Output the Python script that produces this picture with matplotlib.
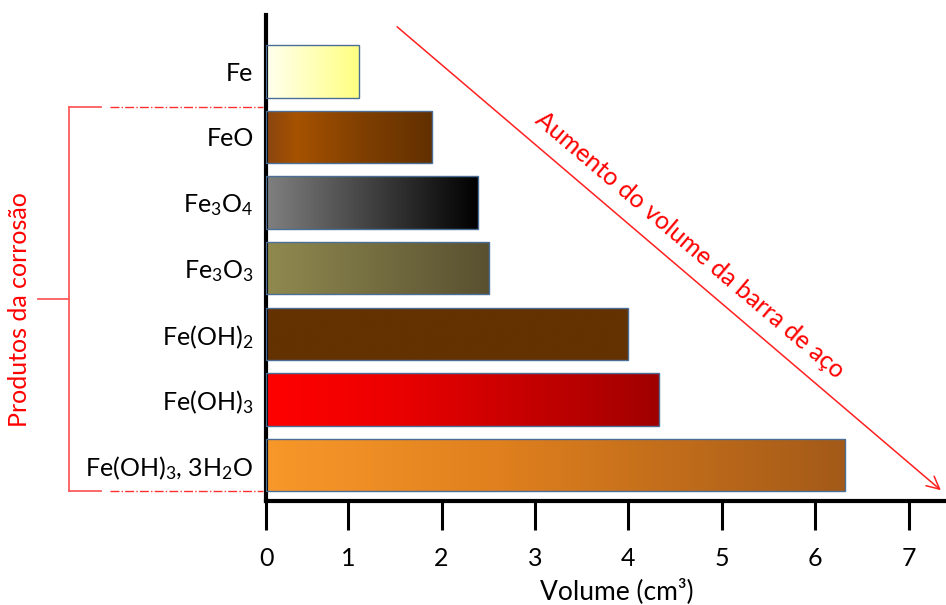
import numpy as np
import matplotlib
matplotlib.use('Agg')
import matplotlib.pyplot as plt
from matplotlib.colors import LinearSegmentedColormap
from matplotlib.lines import Line2D

plt.rcParams['font.family'] = ['Lato', 'DejaVu Sans']
plt.rcParams['mathtext.fontset'] = 'custom'
plt.rcParams['mathtext.rm'] = 'Lato'
plt.rcParams['mathtext.it'] = 'Lato:italic'
plt.rcParams['mathtext.default'] = 'regular'

# data (top to bottom)
labels = ['Fe', 'FeO', r'Fe$_3$O$_4$', r'Fe$_3$O$_3$', r'Fe(OH)$_2$',
          r'Fe(OH)$_3$', r'Fe(OH)$_3$, 3H$_2$O']
volumes = [1.12, 1.90, 2.39, 2.51, 4.00, 4.33, 6.32]

# gradient stops for each bar (left -> right)
gradients = [
    [(0, '#fffff0'), (1, '#ffff80')],
    [(0, '#8a4510'), (0.18, '#a65200'), (0.55, '#824000'), (1, '#613000')],
    [(0, '#808080'), (1, '#000000')],
    [(0, '#908a50'), (1, '#585030')],
    [(0, '#633200'), (1, '#633200')],
    [(0, '#ff0000'), (0.3, '#ee0000'), (1, '#a00000')],
    [(0, '#f8982a'), (0.4, '#e0801e'), (1, '#a35a18')],
]

W, H = 946, 605


def px(x, y):
    return x / W, 1 - y / H


fig = plt.figure(figsize=(W / 100, H / 100), dpi=100)
ax = fig.add_axes([266 / W, 1 - 501 / H, (W - 266) / W, (501 - 15) / H])

x0 = 0.12
ypos = np.arange(len(labels))[::-1]
bars = ax.barh(ypos, [v - x0 for v in volumes], left=x0, height=0.8,
               facecolor='none', edgecolor='#4a6e96', linewidth=1, zorder=3)

grad = np.linspace(0, 1, 256).reshape(1, -1)
for bar, stops in zip(bars, gradients):
    cmap = LinearSegmentedColormap.from_list('g', stops)
    bx, by = bar.get_x(), bar.get_y()
    bw, bh = bar.get_width(), bar.get_height()
    im = ax.imshow(grad, cmap=cmap, aspect='auto', extent=[bx, bx + bw, by, by + bh],
                   zorder=2, interpolation='bicubic')
    im.set_clip_path(bar)

ax.set_xlim(x0, 7.4)
ax.set_ylim(-0.55, 6.86)
ax.set_xticks([x0, 1, 2, 3, 4, 5, 6, 7])
ax.set_xticklabels([str(i) for i in range(8)])
ax.set_yticks(ypos)
ax.set_yticklabels(labels)

for s in ['top', 'right']:
    ax.spines[s].set_visible(False)
for s in ['left', 'bottom']:
    ax.spines[s].set_linewidth(3)
ax.tick_params(axis='x', direction='out', length=21, width=2.2, labelsize=18, pad=12)
ax.tick_params(axis='y', length=0, labelsize=18, pad=9)

fig.text(*px(617, 591), 'Volume (cm³)', ha='center', va='center', fontsize=19)

# bracket for corrosion products
bc = '#ff5a5a'
fig.add_artist(Line2D([69 / W, 69 / W], [1 - 107 / H, 1 - 491 / H], color=bc, lw=1.3,
                      transform=fig.transFigure))
for yy in (107, 491):
    fig.add_artist(Line2D([69 / W, 101 / W], [1 - yy / H] * 2, color=bc, lw=1.3,
                          transform=fig.transFigure))
    fig.add_artist(Line2D([110 / W, 263 / W], [1 - yy / H] * 2, color='#ff3030', lw=1,
                          linestyle='-.', transform=fig.transFigure))
fig.add_artist(Line2D([38 / W, 69 / W], [1 - 299 / H] * 2, color=bc, lw=1.3,
                      transform=fig.transFigure))
fig.text(*px(20, 310), 'Produtos da corrosão', rotation=90, ha='center', va='center',
         color='red', fontsize=18)

# arrow
ax.annotate('', xy=px(943, 492), xytext=px(395, 25), xycoords='figure fraction',
            textcoords='figure fraction',
            arrowprops=dict(arrowstyle='->,head_length=0.9,head_width=0.45',
                            color='#ff2020', lw=1.1))
fig.text(*px(690, 245), 'Aumento do volume da barra de aço', rotation=-40.4,
         rotation_mode='anchor', ha='center', va='center', color='red', fontsize=18)

fig.savefig('out.png', dpi=100)
